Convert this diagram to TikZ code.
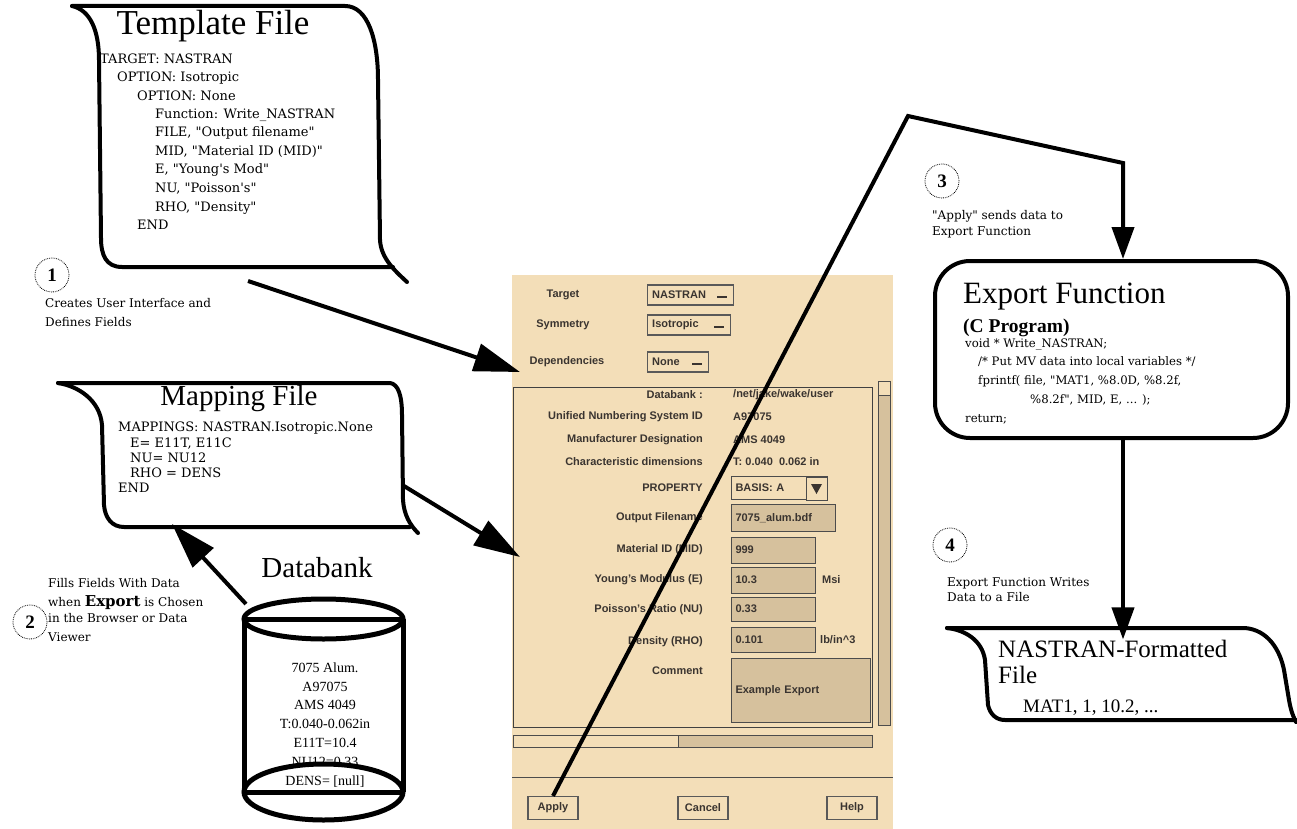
\documentclass[tikz,border=0pt]{standalone}
\usepackage{fontspec}
\setmainfont{Liberation Serif}
\setsansfont{Liberation Sans}
\newfontfamily\bitserif{DejaVu Serif}
\usetikzlibrary{arrows.meta}

\definecolor{panel}{HTML}{F3DEB8}
\definecolor{fieldtan}{HTML}{D6C19D}
\definecolor{guitext}{HTML}{3A3430}

\begin{document}
\begin{tikzpicture}[x=1pt,y=-1pt,
  outline/.style={line width=4pt,line join=round,line cap=round},
  flow/.style={line width=4pt,-{Triangle[length=46pt,width=28pt]}},
  flowsmall/.style={line width=4pt,-{Triangle[length=32pt,width=22pt]}},
  stepnum/.style={circle,draw,densely dotted,line width=0.8pt,minimum size=34pt,inner sep=0pt,font=\fontsize{19}{19}\selectfont\bfseries},
  note/.style={anchor=base west,inner sep=0pt,font=\bitserif\fontsize{12}{12}\selectfont},
  listing/.style={anchor=base west,inner sep=0pt,font=\bitserif\fontsize{13}{13}\selectfont},
  title/.style={anchor=base,inner sep=0pt},
  gui/.style={inner sep=0pt,font=\sffamily\bfseries\fontsize{11}{12}\selectfont,text=guitext},
  guibtn/.style={draw=black!65,fill=panel,line width=1.2pt,inner sep=0pt},
  guifield/.style={draw=black!70,fill=fieldtan,line width=1pt,inner xsep=4pt,inner ysep=0pt,align=left,font=\sffamily\bfseries\fontsize{11}{12}\selectfont,text=guitext},
]
\useasboundingbox (0,0) rectangle (1297,829);

% template file
\draw[outline] (72,6) -- (345,6) .. controls (368,6) and (378,40) .. (378,80) -- (380,240) .. controls (381,258) and (394,270) .. (407,282);
\draw[outline] (393,267) -- (122,267) .. controls (106,267) and (101,255) .. (101,238) -- (99,60) .. controls (99,30) and (90,10) .. (72,6);
\node[title,font=\fontsize{35}{35}\selectfont] (tpltitle) at (213,35) {Template File};
\foreach \x/\y/\t in {100/64/{TARGET: NASTRAN}, 117/82/{OPTION: Isotropic}, 137/101/{OPTION: None},
    155/119/{Function: Write\_NASTRAN}, 155/137/{FILE, "Output filename"}, 155/156/{MID, "Material ID (MID)"},
    155/174/{E, "Young's Mod"}, 155/193/{NU, "Poisson's"}, 155/211/{RHO, "Density"}, 137/229/{END}} {
  \node[listing] (tpl\y) at (\x,\y) {\t};
}

% step 1
\node[stepnum] (one) at (52,275) {1};
\node[note] (onea) at (45,307) {Creates User Interface and};
\node[note] (oneb) at (45,326) {Defines Fields};

% mapping file
\draw[outline] (58,383) -- (390,383) .. controls (398,384) and (402,395) .. (402,415) -- (403,500) .. controls (404,515) and (410,525) .. (418,533);
\draw[outline] (58,383) .. controls (78,386) and (100,400) .. (102,425) -- (104,505) .. controls (105,518) and (112,527) .. (124,527) -- (410,527);
\node[title,font=\fontsize{29}{29}\selectfont] (maptitle) at (239,405) {Mapping File};
\foreach \x/\y/\t in {118/431/{MAPPINGS: NASTRAN.Isotropic.None}, 130/447/{E= E11T, E11C},
    130/462/{NU= NU12}, 130/477/{RHO = DENS}, 118/492/{END}} {
  \node[listing] (map\y) at (\x,\y) {\t};
}

% step 2
\node[stepnum] (two) at (30,622) {2};
\node[note] (twoa) at (48,587) {Fills Fields With Data};
\node[note] (twob) at (48,606) {when {\fontsize{15}{15}\selectfont\bfseries Export} is Chosen};
\node[note] (twoc) at (48,622) {in the Browser or Data};
\node[note] (twod) at (48,641) {Viewer};

% databank
\draw[line width=5pt] (323.5,619) ellipse (79.5pt and 20pt);
\draw[line width=5pt] (244,619) -- (403,619);
\draw[line width=5pt] (244,619) -- (244,792);
\draw[line width=5pt] (403,619) -- (403,792);
\draw[line width=5pt] (323.5,792) ellipse (79.5pt and 28pt);
\draw[line width=5pt] (244,792) -- (403,792);
\node[title,font=\fontsize{29}{29}\selectfont] (dbtitle) at (317,577) {Databank};
\foreach \y/\t in {672/{7075 Alum.}, 691/{A97075}, 709/{AMS 4049}, 728/{T:0.040-0.062in},
    747/{E11T=10.4}, 766/{NU12=0.33}, 785/{DENS= [null]}} {
  \node[title,font=\fontsize{14}{14}\selectfont] (db\y) at (325,\y) {\t};
}

% dialog
\node[fill=panel,minimum width=381pt,minimum height=554pt,inner sep=0pt] (dialog) at (702.5,552) {};
\node[gui] (tgtlab) at (563,295) {Target};
\node[gui] (symlab) at (563,325) {Symmetry};
\node[gui] (deplab) at (567,362) {Dependencies};
\foreach \n/\y/\w/\t in {tgt/295/86/NASTRAN, sym/325/83/Isotropic, dep/362/61/None} {
  \node[guibtn,minimum width=\w pt,minimum height=20pt,anchor=west] (\n btn) at (647,\y) {};
  \node[gui,anchor=west] (\n txt) at (652,\y) {\t};
  \fill[guitext] ([xshift=-17pt,yshift=-3pt]\n btn.east) rectangle ++(10pt,2.5pt);
}
\draw[black!75,line width=1pt] (513,387) rectangle (872,727);
\foreach \y/\t in {395/{Databank :}, 417/{Unified Numbering System ID}, 440/{Manufacturer Designation},
    462/{Characteristic dimensions}, 488/{PROPERTY}, 518/{Output Filename}, 550/{Material ID (MID)},
    580/{Young's Modulus (E)}, 610/{Poisson's Ratio (NU)}, 642/{Density (RHO)}, 671/{Comment}} {
  \node[gui,anchor=east] (lab\y) at (703,\y) {\t};
}
\node[gui,anchor=west] (dbval) at (733,395) {/net/jake/wake/user};
\node[gui,anchor=west] (unsval) at (733,417) {A97075};
\node[gui,anchor=west] (mfrval) at (733,440) {AMS 4049};
\node[gui,anchor=west] (dimval) at (733,462) {T: 0.040\ \ 0.062 in};
\node[guifield,fill=panel,anchor=west,minimum height=23pt,text width=88pt] (propfld) at (731,488) {BASIS: A};
\draw[black!70,line width=1pt,fill=panel] (806,477) rectangle (827,500);
\fill[guitext] (811,484) -- (822,484) -- (816.5,494) -- cycle;
\node[guifield,anchor=west,minimum height=27pt,text width=96pt] (outfld) at (731,518) {7075\_alum.bdf};
\node[guifield,anchor=west,minimum height=26pt,text width=76pt] (midfld) at (731,550) {999};
\node[guifield,anchor=west,minimum height=26pt,text width=76pt] (efld) at (731,580) {10.3};
\node[guifield,anchor=west,minimum height=24pt,text width=76pt] (nufld) at (731,609) {0.33};
\node[guifield,anchor=west,minimum height=25pt,text width=76pt] (rhofld) at (731,640) {0.101};
\node[gui,anchor=west] (eunit) at (822,580) {Msi};
\node[gui,anchor=west] (rhounit) at (820,640) {lb/in\textasciicircum 3};
\node[guifield,anchor=north west,minimum height=64pt,text width=131pt,inner ysep=6pt] (cmtfld) at (731,658) {Example Export};
% scroll bars
\draw[black!70,line width=1pt,fill=fieldtan] (878,381) rectangle (890,725);
\draw[black!70,line width=1pt,fill=panel] (878,381) rectangle (890,395);
\draw[black!70,line width=1pt,fill=fieldtan] (513,735) rectangle (872,747);
\draw[black!70,line width=1pt,fill=panel] (513,735) rectangle (678,747);
\draw[black!70,line width=1pt] (512,777) -- (893,777);
\foreach \n/\x/\t in {apply/553/Apply, cancel/703/Cancel, help/852/Help} {
  \node[guibtn,minimum width=50pt,minimum height=23pt,font=\sffamily\bfseries\fontsize{11}{12}\selectfont,text=guitext] (\n btn) at (\x,808) {\t};
}

% step 3
\node[stepnum] (three) at (942,181) {3};
\node[note] (threea) at (932,219) {"Apply" sends data to};
\node[note] (threeb) at (932,235) {Export Function};

% export function
\node[draw,line width=4pt,rounded corners=35pt,minimum width=353pt,minimum height=177pt] (expfn) at (1111.5,349.5) {};
\node[anchor=base west,inner sep=0pt,font=\fontsize{31}{31}\selectfont] (exptitle) at (963,303) {Export Function};
\node[anchor=base west,inner sep=0pt,font=\fontsize{19.5}{20}\selectfont\bfseries] (expsub) at (963,332) {(C Program)};
\foreach \x/\y/\t in {965/347/{void * Write\_NASTRAN;}, 978/365/{/* Put MV data into local variables */},
    978/384/{fprintf( file, "MAT1, \%8.0D, \%8.2f,}, 1030/403/{\%8.2f", MID, E, ... );}, 965/422/{return;}} {
  \node[listing,font=\bitserif\fontsize{11.7}{12}\selectfont] (code\y) at (\x,\y) {\t};
}

% step 4
\node[stepnum] (four) at (950,545) {4};
\node[note] (foura) at (947,586) {Export Function Writes};
\node[note] (fourb) at (947,601) {Data to a File};

% nastran file
\draw[outline] (947,628) -- (1245,628) .. controls (1268,630) and (1280,650) .. (1284,670) -- (1289,700) .. controls (1291,712) and (1294,718) .. (1296,722);
\draw[outline] (947,628) .. controls (965,630) and (982,640) .. (985,660) -- (988,705) .. controls (990,714) and (996,720) .. (1005,720) -- (1296,720);
\node[anchor=base west,inner sep=0pt,font=\fontsize{25}{25}\selectfont] (nasa) at (998,657) {NASTRAN-Formatted};
\node[anchor=base west,inner sep=0pt,font=\fontsize{25}{25}\selectfont] (nasb) at (998,683) {File};
\node[anchor=base west,inner sep=0pt,font=\fontsize{19}{19}\selectfont] (nasc) at (1023,712) {MAT1, 1, 10.2, ...};

% connectors
\coordinate (tplfoot) at (248,281);
\coordinate (dlgtop) at (520,372);
\coordinate (mapside) at (404,486);
\coordinate (dlgmid) at (520,557);
\coordinate (dbtop) at (246,604);
\coordinate (mapfoot) at (172,524);
\coordinate (apex) at (908,116);
\coordinate (bend) at (1123,163);
\draw[flow] (tplfoot) -- (dlgtop);
\draw[flow] (mapside) -- (dlgmid);
\draw[flow] (dbtop) -- (mapfoot);
\draw[flowsmall,line join=miter] (applybtn.north) -- (apex) -- (bend) -- (bend |- expfn.north);
\draw[flowsmall] (expfn.south -| bend) -- (bend |- nasa.north);
\end{tikzpicture}
\end{document}
